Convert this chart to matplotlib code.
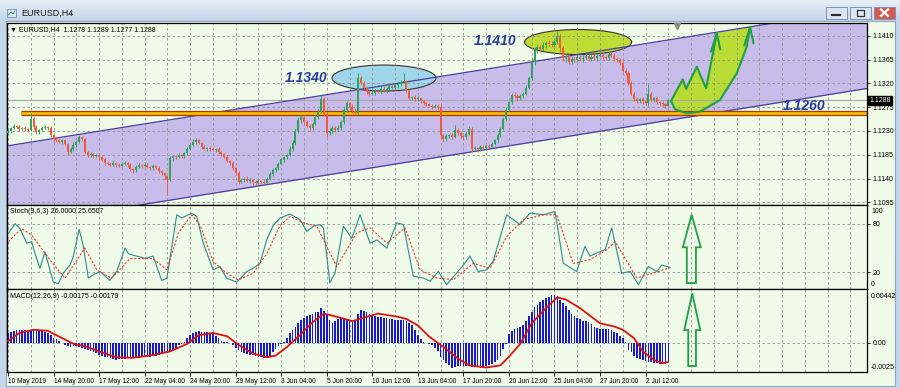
import numpy as np
import matplotlib.pyplot as plt
from matplotlib.patches import Ellipse, Polygon, Rectangle
from matplotlib.colors import LinearSegmentedColormap

plt.rcParams['font.family'] = ['Liberation Sans', 'DejaVu Sans']

# ---------------- data (EURUSD H4, pips above 1.1000) ----------------
closes_pips = [
    230, 236, 240, 238, 234, 236, 233, 232, 252, 238,
    228, 232, 236, 238, 236, 222, 214, 212, 210, 212,
    206, 190, 196, 204, 210, 218, 214, 190, 184, 186,
    182, 184, 180, 176, 170, 168, 166, 170, 166, 164,
    168, 170, 166, 158, 156, 162, 166, 164, 166, 162,
    160, 164, 160, 154, 150, 144, 138, 178, 182, 180,
    184, 182, 188, 196, 204, 210, 212, 208, 200, 196,
    198, 196, 194, 196, 190, 186, 180, 174, 170, 160,
    150, 134, 138, 140, 136, 138, 134, 132, 136, 134,
    132, 140, 148, 156, 160, 168, 176, 180, 184, 196,
    208, 230, 250, 256, 246, 240, 236, 244, 256, 266,
    290, 262, 226, 230, 236, 232, 236, 246, 270, 282,
    276, 268, 264, 330, 320, 312, 304, 300, 302, 306,
    304, 310, 306, 310, 314, 312, 316, 318, 322, 324,
    306, 292, 294, 290, 292, 286, 282, 280, 278, 276,
    278, 276, 222, 214, 220, 222, 218, 232, 226, 220,
    218, 224, 234, 196, 198, 196, 200, 198, 202, 200,
    206, 212, 222, 234, 252, 270, 284, 298, 296, 292,
    296, 300, 312, 330, 360, 384, 388, 384, 392, 396,
    394, 392, 398, 410, 386, 368, 372, 360, 366, 364,
    370, 366, 368, 372, 366, 370, 368, 372, 374, 370,
    368, 376, 372, 366, 364, 358, 344, 340, 320, 300,
    290, 286, 290, 286, 282, 300, 288, 292, 284, 282,
    280, 278, 288,
]
wick_up_pips = [
    3, 2, 4, 2, 3, 2, 3, 2, 12, 4, 3, 2, 4, 3, 2, 3, 2, 4, 3, 2,
    3, 2, 4, 6, 3, 4, 3, 2, 3, 4, 2, 3, 2, 4, 3, 2, 3, 5, 2, 3,
    3, 4, 2, 3, 2, 4, 3, 2, 5, 3, 2, 3, 2, 3, 2, 3, 2, 4, 3, 2,
    4, 3, 2, 4, 3, 4, 5, 3, 2, 3, 2, 4, 3, 2, 3, 2, 3, 4, 2, 3,
    2, 4, 3, 2, 4, 3, 2, 3, 4, 2, 3, 2, 4, 3, 2, 4, 3, 2, 4, 5,
    4, 3, 6, 4, 3, 5, 4, 3, 5, 6, 8, 4, 3, 5, 4, 3, 5, 4, 6, 4,
    3, 4, 5, 9, 4, 5, 3, 4, 5, 4, 3, 4, 5, 3, 4, 6, 4, 5, 4, 16,
    3, 4, 2, 3, 4, 3, 2, 3, 2, 3, 2, 3, 4, 3, 4, 3, 4, 9, 3, 4,
    3, 4, 6, 3, 4, 2, 3, 4, 2, 3, 3, 2, 4, 3, 4, 5, 3, 4, 5, 3,
    4, 3, 5, 4, 6, 5, 4, 5, 6, 4, 5, 6, 4, 8, 4, 5, 6, 4, 5, 4,
    5, 4, 6, 5, 4, 6, 5, 4, 6, 5, 4, 5, 4, 6, 4, 3, 4, 5, 3, 4,
    3, 4, 3, 4, 3, 18, 4, 3, 4, 3, 4, 3, 1,
]
wick_dn_pips = [
    3, 4, 2, 3, 4, 2, 3, 4, 3, 4, 3, 4, 2, 3, 4, 3, 4, 2, 3, 4,
    3, 5, 2, 3, 4, 3, 2, 4, 3, 4, 3, 2, 4, 3, 4, 3, 2, 3, 4, 3,
    2, 3, 4, 3, 5, 3, 2, 4, 3, 2, 3, 4, 2, 4, 3, 4, 30, 3, 4, 3,
    2, 3, 4, 3, 2, 3, 4, 3, 4, 2, 3, 4, 2, 3, 4, 3, 2, 3, 4, 3,
    4, 5, 3, 4, 3, 4, 6, 5, 3, 4, 3, 4, 2, 3, 4, 3, 2, 4, 3, 2,
    3, 4, 3, 5, 4, 3, 6, 4, 3, 4, 3, 4, 8, 4, 3, 4, 3, 4, 3, 4,
    5, 4, 3, 2, 4, 3, 5, 4, 3, 4, 3, 4, 3, 4, 3, 2, 3, 4, 3, 2,
    3, 4, 3, 4, 3, 4, 3, 2, 3, 4, 3, 4, 5, 4, 3, 4, 3, 2, 4, 3,
    4, 3, 2, 6, 4, 5, 4, 3, 4, 3, 2, 3, 4, 3, 2, 4, 3, 4, 3, 5,
    3, 4, 3, 2, 4, 5, 6, 4, 3, 5, 4, 3, 4, 3, 6, 5, 8, 4, 3, 4,
    3, 4, 5, 3, 4, 3, 4, 5, 3, 4, 3, 4, 3, 4, 3, 4, 3, 5, 4, 3,
    4, 3, 4, 5, 3, 4, 3, 4, 3, 4, 3, 4, 1,
]
first_open = 1.1226

# MACD(12,26,9) histogram, units of 1e-5
macd_hist = [
    90, 100, 110, 115, 120, 120, 122, 122, 121, 120,
    115, 110, 105, 95, 88, 70, 45, 30, 12, 0,
    -18, -30, -40, -35, -30, -40, -50, -60, -70, -80,
    -90, -100, -110, -120, -128, -135, -140, -150, -158, -155,
    -150, -148, -146, -145, -142, -140, -138, -135, -132, -130,
    -128, -125, -120, -110, -105, -100, -95, -85, -70, -50,
    -25, -10, 10, 40, 70, 90, 100, 105, 103, 102,
    100, 90, 80, 65, 40, 20, 10, 5, 0, -25,
    -50, -70, -85, -95, -105, -110, -118, -125, -130, -135,
    -140, -138, -120, -90, -60, -30, -10, 10, 40, 90,
    120, 150, 180, 210, 230, 250, 260, 270, 280, 285,
    320, 290, 270, 210, 180, 200, 220, 230, 225, 220,
    205, 200, 210, 270, 300, 290, 285, 270, 260, 250,
    240, 235, 230, 225, 220, 215, 212, 210, 210, 210,
    200, 185, 160, 120, 70, 30, 10, 0, -10, -25,
    -50, -80, -130, -160, -190, -210, -230, -225, -220, -220,
    -220, -220, -220, -222, -225, -228, -230, -225, -220, -210,
    -195, -175, -160, -120, -60, -10, 80, 110, 130, 140,
    150, 160, 200, 250, 280, 330, 350, 380, 400, 410,
    420, 440, 442, 430, 400, 370, 340, 300, 270, 250,
    230, 215, 205, 200, 195, 170, 150, 140, 130, 130,
    125, 125, 120, 100, 90, 60, 40, 10, -70, -90,
    -120, -140, -150, -160, -170, -175, -180, -185, -190, -195,
    -200, -195, -175,
]
signal_bars = [0, 4, 9, 14, 18, 23, 28, 32, 38, 44, 51, 57, 63, 67, 72, 77, 81, 86,
               91, 94, 98, 102.6, 107, 111, 117, 121, 130, 137, 140, 144, 148, 153,
               158, 162, 168, 173, 176, 180, 184, 189, 193, 196, 201, 208, 213, 216,
               220, 223, 227, 230, 232]
signal_vals = [16, 90, 120, 110, 56, -10, -40, -80, -135, -140, -114, -80, -10, 70, 90,
               60, -20, -100, -135, -120, -40, 70, 190, 270, 230, 200, 270, 240, 220,
               160, 56, -40, -145, -210, -230, -210, -130, -10, 180, 320, 420, 400,
               320, 180, 150, 120, 40, -80, -160, -190, -179]

# Stochastic(9,6,3)
stoch_k_bars = [0.1, 2.5, 4.2, 6.6, 8.3, 9.5, 11.2, 13, 15.9, 17.7, 19.4, 21.8, 22.9, 25,
                26.5, 28.2, 30, 32.3, 35.8, 38.2, 41.1, 42.3, 44, 46.4, 48.1, 51, 54,
                55.8, 59.3, 61, 64.5, 66.3, 68.6, 72.1, 74.5, 76.8, 80.4, 83.9, 86.2,
                88.5, 90.9, 93.2, 95.6, 99.1, 102.6, 105, 107.3, 109.6, 110.8, 113.1,
                114.9, 117.8, 120.8, 123.7, 127.2, 129.6, 133.1, 136.6, 138.9, 142.4,
                145.9, 148.3, 151.2, 154.1, 160, 162.3, 165.2, 168.2, 170.5, 175.2,
                179.9, 183.4, 188.1, 192.2, 195.1, 199.8, 202.7, 204.5, 206.9, 209.8,
                212.1, 215.6, 218.6, 221.5, 225, 228, 229.7, 232.6]
stoch_k = [68, 80, 74, 56, 58, 43, 25, 45, 8, 6, 19, 29, 39, 73, 52, 13, 17, 21, 10, 21,
           50, 43, 41, 39, 37, 40, 10, 12.6, 91, 87, 93, 89, 56, 23, 27, 12.6, 8, 21, 25,
           31, 60, 78, 87, 92, 85, 70.6, 77, 79, 75, 7, 19, 77, 62, 91, 56, 60, 50, 81,
           79, 15, 13, 9, 21, 4.7, 29, 40, 21, 23, 34, 91, 79, 93, 91, 95, 31, 21, 52,
           40, 44, 48, 75, 19, 21, 4.7, 27, 21, 29, 26]
stoch_d_bars = [0.1, 4.8, 8.3, 14.8, 20, 27, 31.2, 36.4, 42.9, 47.5, 51, 55.8, 59.8, 64.5,
                67.5, 72.1, 76.8, 80.9, 86.2, 90.9, 95.6, 99.1, 103.8, 108.5, 115.5,
                122.5, 127.2, 133.1, 139.5, 144.8, 150.6, 156.5, 163.5, 169.4, 175.2,
                181, 188.1, 192.8, 198.6, 204.5, 210.4, 213.3, 220.9, 226.7, 232.6]
stoch_d = [58, 74, 66, 35, 12.6, 50, 23, 12.6, 37, 37, 37, 23, 68, 91, 78, 33, 19, 10.5,
           19, 43, 78, 89, 81, 77, 27, 68.5, 75, 56, 75, 23, 13, 11, 31, 25, 64, 85, 91,
           91, 31, 35.6, 48, 58, 13, 19, 25.65]

date_tick_bars = [0, 16, 32, 48, 64, 80, 96, 112, 128, 144, 160, 176, 192, 208, 224]
date_labels = ['10 May 2019', '14 May 20:00', '17 May 12:00', '22 May 04:00',
               '24 May 20:00', '29 May 12:00', '3 Jun 04:00', '5 Jun 20:00',
               '10 Jun 12:00', '13 Jun 04:00', '17 Jun 20:00', '20 Jun 12:00',
               '25 Jun 04:00', '27 Jun 20:00', '2 Jul 12:00']
price_ticks = [1.1095, 1.1140, 1.1185, 1.1230, 1.1275, 1.1320, 1.1365, 1.1410]

# drawn objects (bar index, price)
chan_bars = [-1, 302]
chan_upper = [1.12011, 1.14623]
chan_lower = [1.10492, 1.13104]
support_level = 1.1263
support_start = 4.6
bid_price = 1.1288
zone_blue = (132.1, 1.1330, 36.5, 0.00491)
zone_green = (200.3, 1.1398, 37.6, 0.00473)
level_notes = [(97.3, 1.1330, '1.1340'), (163.7, 1.1400, '1.1410'), (272.3, 1.1277, '1.1260')]
zigzag_bars = [232.96, 237.07, 238.23, 241.99, 245.26, 249.02]
zigzag_prices = [1.12866, 1.13276, 1.13093, 1.13514, 1.13106, 1.14145]
curve_bars = [232.96, 234.36, 238.47, 243.11, 250.14, 256.04, 259.56, 260.72]
curve_prices = [1.12866, 1.12709, 1.12633, 1.12664, 1.12885, 1.13389, 1.13892, 1.14259]
stoch_arrow_bars = [240.2, 243.4, 241.7, 241.7, 238.5, 238.5, 237.1]
stoch_arrow_vals = [91.1, 50.9, 50.9, 6.8, 6.8, 50.9, 50.9]
macd_arrow_bars = [240.4, 243.2, 241.7, 241.7, 239.0, 239.0, 237.6]
macd_arrow_vals = [0.004577, 0.001177, 0.001177, -0.00216, -0.00216, 0.001177, 0.001177]

# ---------------- derived ----------------
closes = np.array(closes_pips) / 10000 + 1.1
opens = np.r_[first_open, closes[:-1]]
highs = np.maximum(opens, closes) + np.array(wick_up_pips) / 10000
lows = np.minimum(opens, closes) - np.array(wick_dn_pips) / 10000
bars = np.arange(len(closes))
macd = np.array(macd_hist) / 1e5
signal = np.array(signal_vals) / 1e5

BG = '#EFFBE8'
GRID = dict(color='#909090', lw=0.6, linestyle=(0, (3, 3)))
XMIN, XMAX = -0.35, 301.8
FS = 5.0

fig = plt.figure(figsize=(9, 3.88), dpi=100)
fig.patch.set_facecolor('#C7D7EB')

# window chrome in pixel coordinates
chrome = fig.add_axes([0, 0, 1, 1], zorder=-10)
chrome.set_xlim(0, 900)
chrome.set_ylim(388, 0)
chrome.axis('off')
tb = LinearSegmentedColormap.from_list('tb', ['#E8EFF8', '#C4D5EA'])
chrome.imshow(np.linspace(0, 1, 30)[:, None], extent=[0, 900, 21, 0], cmap=tb, aspect='auto')
chrome.add_patch(Rectangle((6, 21), 889, 365, facecolor=BG, edgecolor='#8FA3BD', lw=0.8))
chrome.add_patch(Rectangle((7, 9), 9, 8, facecolor='#DDE8F5', edgecolor='#6C8FB8', lw=0.6))
chrome.plot([8.5, 11, 13, 15], [15, 12, 14, 11], color='#3A7A3A', lw=0.6)
chrome.text(21, 13.5, 'EURUSD,H4', fontsize=6.5, va='center', color='#1A1A1A')
for x0, face in [(826, '#DCE6F3'), (850, '#DCE6F3'), (874, '#D5584A')]:
    chrome.add_patch(Rectangle((x0, 7), 21, 11.5, facecolor=face, edgecolor='#7D93B2', lw=0.7))
chrome.plot([832, 840], [14.5, 14.5], color='#303030', lw=1.6)
chrome.add_patch(Rectangle((857, 10), 7, 5.5, facecolor='none', edgecolor='#303030', lw=0.9))
chrome.plot([881, 888], [9.5, 16], color='white', lw=1.6)
chrome.plot([881, 888], [16, 9.5], color='white', lw=1.6)

ax = fig.add_axes([7 / 900, 1 - 205 / 388, 860 / 900, 182 / 388])
ax_st = fig.add_axes([7 / 900, 1 - 289 / 388, 860 / 900, 84 / 388])
ax_md = fig.add_axes([7 / 900, 1 - 372 / 388, 860 / 900, 83 / 388])

for a in (ax, ax_st, ax_md):
    a.set_facecolor(BG)
    a.set_xlim(XMIN, XMAX)
    for s in a.spines.values():
        s.set_color('black')
        s.set_linewidth(0.9)
    a.vlines(np.arange(0, 300, 8), 0, 1, transform=a.get_xaxis_transform(), zorder=1, **GRID)
    a.yaxis.tick_right()
    a.tick_params(axis='y', length=2.5, width=0.6, pad=1.5, labelsize=FS)
    a.tick_params(axis='x', length=0)
    a.set_xticks([])

# ---------------- main price panel ----------------
ax.set_ylim(1.10900, 1.14340)
ax.fill_between(chan_bars, chan_lower, chan_upper, color='#C8BCEA', lw=0, zorder=0.5)
ax.plot(chan_bars, chan_upper, color='#4B3CA0', lw=0.9, zorder=2)
ax.plot(chan_bars, chan_lower, color='#4B3CA0', lw=0.9, zorder=2)
for p in price_ticks:
    ax.axhline(p, zorder=1, **GRID)
ax.set_yticks(price_ticks)
ax.set_yticklabels([f'{p:.4f}' for p in price_ticks])

for (cx, cy, w, h), col in [(zone_blue, '#9FD6EA'), (zone_green, '#BEDC34')]:
    ax.add_patch(Ellipse((cx, cy), w, h, facecolor=col, edgecolor='#3A3030', lw=0.8, zorder=0.8))

ax.axhline(bid_price, color='#A8A8A8', lw=0.8, zorder=1.6)
ax.plot([support_start, XMAX], [support_level] * 2, color='#A0400C', lw=3.8,
        solid_capstyle='butt', zorder=2)
ax.plot([support_start, XMAX], [support_level] * 2, color='#FFC000', lw=1.9,
        solid_capstyle='butt', zorder=2.1)

up = closes >= opens
cols = np.where(up, '#2FA35C', '#EE5B3C')
ax.vlines(bars, lows, highs, colors=cols, lw=0.7, zorder=3)
ax.bar(bars, np.maximum(np.abs(closes - opens), 0.00006), bottom=np.minimum(opens, closes),
       width=0.72, color=cols, lw=0, zorder=3.1)

for bx, py, txt in level_notes:
    ax.text(bx, py, txt, color='#2B3A9E', fontsize=10, fontweight='bold', fontstyle='italic',
            va='center', ha='left', zorder=6)

shape_x = zigzag_bars + curve_bars[::-1]
shape_y = zigzag_prices + curve_prices[::-1]
ax.add_patch(Polygon(np.c_[shape_x, shape_y], closed=True, facecolor='#B8DC34',
                     edgecolor='none', zorder=0.9))
ax.plot(zigzag_bars, zigzag_prices, color='#1FA043', lw=1.5, zorder=4)
ax.plot(curve_bars, curve_prices, color='#1FA043', lw=1.5, zorder=4)
for tx, ty in [(zigzag_bars[-1], zigzag_prices[-1]), (curve_bars[-1], curve_prices[-1])]:
    ax.plot([tx - 2.0, tx, tx + 1.2], [ty - 0.0034, ty, ty - 0.0030], color='#1FA043', lw=1.5,
            zorder=4)

ax.plot([235.1], [1.14290], marker='v', color='#8A8A8A', ms=4, zorder=5, clip_on=False)

fig.text(10 / 900, 1 - 29.3 / 388, '\u25bc EURUSD,H4  1.1278 1.1289 1.1277 1.1288',
         fontsize=FS, va='center')
fig.text(869 / 900, 1 - 100.2 / 388, '1.1288', fontsize=FS, color='white', va='center',
         bbox=dict(facecolor='black', edgecolor='black', pad=0.8))

# ---------------- stochastic panel ----------------
ax_st.set_ylim(-0.6, 103.1)
for lv in (80, 20):
    ax_st.axhline(lv, zorder=1, **GRID)
ax_st.set_yticks([80, 20])
ax_st.set_yticklabels(['80', '20'])
ax_st.plot(stoch_k_bars, stoch_k, color='#2E8A8A', lw=0.8, zorder=3)
ax_st.plot(stoch_d_bars, stoch_d, color='#E23A30', lw=0.8, linestyle=(0, (2, 1.5)), zorder=3)
ax_st.add_patch(Polygon(np.c_[stoch_arrow_bars, stoch_arrow_vals], closed=True, facecolor='none',
                        edgecolor='#1FA043', lw=1.3, zorder=4))
fig.text(10 / 900, 1 - 212 / 388, 'Stoch(9,6,3) 26.0000 25.6507', fontsize=FS, va='center')
fig.text(871 / 900, 1 - 211.7 / 388, '100', fontsize=FS, va='center')
fig.text(871 / 900, 1 - 284 / 388, '0', fontsize=FS, va='center')

# ---------------- MACD panel ----------------
ax_md.set_ylim(-0.002715, 0.004976)
ax_md.axhline(0, zorder=1, **GRID)
ax_md.set_yticks([0])
ax_md.set_yticklabels(['0.00'])
ax_md.bar(bars, macd, width=0.58, color='#1A1AC8', lw=0, zorder=2)
ax_md.plot(signal_bars, signal, color='#E01010', lw=1.3, zorder=3)
ax_md.add_patch(Polygon(np.c_[macd_arrow_bars, macd_arrow_vals], closed=True, facecolor='none',
                        edgecolor='#1FA043', lw=1.3, zorder=4))
fig.text(10 / 900, 1 - 296.5 / 388, 'MACD(12,26,9) -0.00175 -0.00179', fontsize=FS, va='center')
fig.text(871 / 900, 1 - 296.7 / 388, '0.00442', fontsize=FS, va='center')
fig.text(871 / 900, 1 - 367.7 / 388, '-0.0025', fontsize=FS, va='center')

ax_md.set_xticks(date_tick_bars)
ax_md.set_xticklabels(date_labels, ha='left', fontsize=4.8)
ax_md.tick_params(axis='x', length=3, width=0.6, pad=1.5)

fig.savefig('out.png', dpi=100, facecolor=fig.get_facecolor())
